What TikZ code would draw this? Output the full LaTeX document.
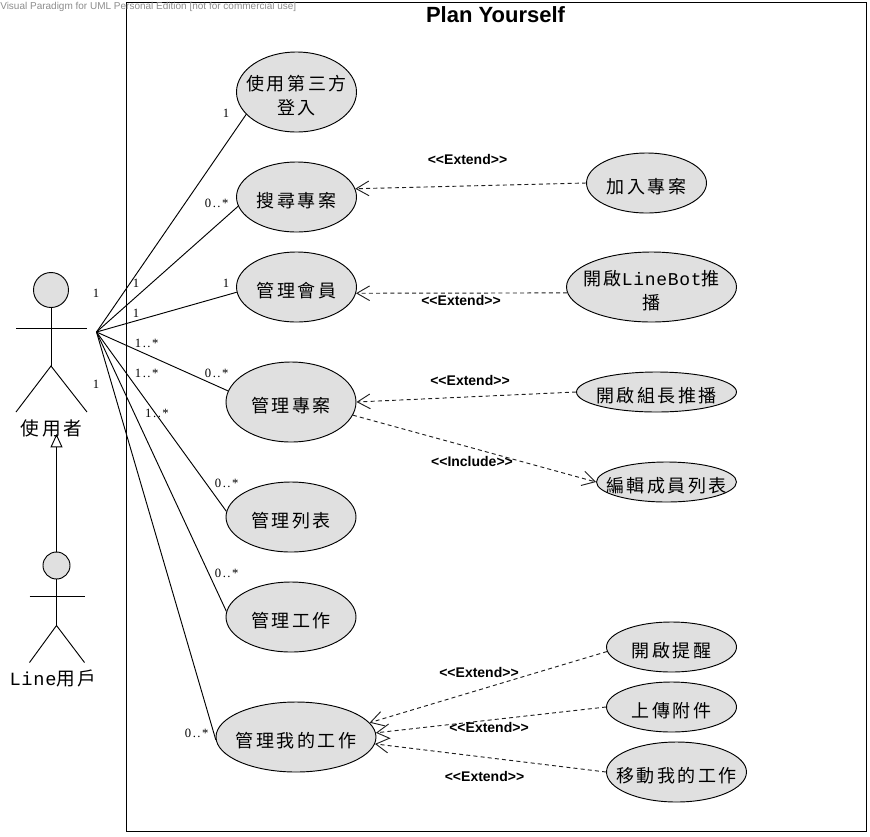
\documentclass[tikz,border=0pt]{standalone}
\usepackage{fontspec}
\setmainfont{Liberation Sans}
\newfontfamily\cjk[LetterSpace=14]{Noto Sans CJK TC}
\newfontfamily\latmono[LetterSpace=4]{Liberation Mono}
\newfontfamily\mult[LetterSpace=12]{Liberation Serif}
\usetikzlibrary{shapes.geometric,arrows.meta}
\definecolor{ucfill}{HTML}{E0E0E0}
\definecolor{dashc}{HTML}{202020}
\definecolor{wm}{HTML}{8C8C8C}
\newcommand{\lat}[1]{{\latmono #1}}
\tikzset{
  x=0.75pt,y=-0.75pt,
  line/.style={draw=black,line width=0.7pt},
  uc/.style args={#1/#2/#3}{ellipse,draw=black,line width=0.7pt,fill=ucfill,inner sep=0pt,
     minimum width=#1*0.75pt,minimum height=#2*0.75pt,
     label={[uct]center:#3}},
  uct/.style={font=\cjk\fontsize{13.5pt}{18pt}\selectfont,align=center,inner sep=0pt,text=black,yshift=-2.6pt},
  acttext/.style={font=\cjk\fontsize{14pt}{18pt}\selectfont,inner sep=0pt},
  head/.style={circle,draw=black,line width=0.7pt,fill=ucfill,inner sep=0pt,minimum size=#1*0.75pt},
  mul/.style={font=\mult\fontsize{9.5pt}{11pt}\selectfont,inner sep=0pt},
  ster/.style={font=\bfseries\fontsize{10.5pt}{13pt}\selectfont,inner sep=0pt},
  dep/.style={draw=dashc,line width=0.7pt,dash pattern=on 3pt off 2.4pt,
     -{Straight Barb[length=9.5pt,width=11pt,line width=0.7pt]}},
  gen/.style={draw=black,line width=0.7pt,-{Triangle[open,fill=white,length=10pt,width=9pt,line width=0.7pt]}},
}
\begin{document}
\begin{tikzpicture}
\useasboundingbox (0,0) rectangle (870,836);
% system boundary
\draw[line width=0.75pt] (126.5,2) rectangle (866,831.5);
\node[font=\bfseries\fontsize{16.5pt}{19pt}\selectfont,inner sep=0pt] (title) at (495.5,15) {Plan Yourself};
\node[font=\fontsize{7.5pt}{9pt}\selectfont,text=wm,inner sep=0pt,anchor=west] (wmark) at (0,7) {Visual Paradigm for UML Personal Edition [not for commercial use]};
% actors
\coordinate (hub) at (96.5,332);
\node[head=35] (h1) at (51,290) {};
\coordinate (a1hip) at (51,366);
\coordinate (a1la) at (16,328);
\coordinate (a1ra) at (87,328);
\coordinate (a1ll) at (16,412);
\coordinate (a1rl) at (87,412);
\draw[line] (h1.south) -- (a1hip);
\draw[line] (a1la) -- (a1ra);
\draw[line] (a1ll) -- (a1hip) -- (a1rl);
\node[acttext] (a1t) at (51.5,428) {使用者};
\node[head=27] (h2) at (56.5,565.5) {};
\coordinate (a2hip) at (56.5,625.5);
\coordinate (a2la) at (29.5,596.5);
\coordinate (a2ra) at (84.5,596.5);
\coordinate (a2ll) at (29.5,662.5);
\coordinate (a2rl) at (84.5,662.5);
\draw[line] (h2.south) -- (a2hip);
\draw[line] (a2la) -- (a2ra);
\draw[line] (a2ll) -- (a2hip) -- (a2rl);
\node[acttext] (a2t) at (53,678) {\lat{Line}用戶};
\coordinate (gtip) at (56.5,434);
\draw[gen] (h2.north) -- (gtip);
% use cases
\node[uc={120/80/使用第三方\\登入}] (u1) at (296.5,92) {};
\node[uc={120/70/搜尋專案}] (u2) at (296.5,197) {};
\node[uc={120/70/管理會員}] (u3) at (296.5,287) {};
\node[uc={130/80/管理專案}] (u4) at (291,402) {};
\node[uc={130/70/管理列表}] (u5) at (291,517) {};
\node[uc={130/70/管理工作}] (u6) at (291,617) {};
\node[uc={160/70/管理我的工作}] (u7) at (296,737) {};
\node[uc={120/60/加入專案}] (e1) at (646.5,183) {};
\node[uc={170/70/開啟\lat{LineBot}推\\播}] (e2) at (651.5,287) {};
\node[uc={160/40/開啟組長推播}] (e3) at (656.5,392) {};
\node[uc={140/40/編輯成員列表}] (e4) at (666.5,482) {};
\node[uc={130/50/開啟提醒}] (e5) at (671.5,647) {};
\node[uc={130/50/上傳附件}] (e6) at (671.5,707) {};
\node[uc={140/60/移動我的工作}] (e7) at (676.5,772) {};
% associations
\draw[line] (hub) -- (u1.204);
\draw[line] (hub) -- (u2.189.5);
\draw[line] (hub) -- (u3.185);
\draw[line] (hub) -- (u4.170);
\draw[line] (hub) -- (u5.175.6);
\draw[line] (hub) -- (u6.175.6);
\draw[line] (hub) -- (u7.182);
% dependencies
\draw[dep] (e1.west) -- (u2.8.5);
\draw[dep] (e2.184) -- (u3.354);
\draw[dep] (e3.west) -- (u4.east);
\draw[dep] (u4.348.7) -- (e4.west);
\draw[dep] (e5.184.4) -- (u7.11.9);
\draw[dep] (e6.west) -- (u7.3.8);
\draw[dep] (e7.west) -- (u7.355.7);
% stereotypes
\node[ster] (s1) at (467.5,159) {<{}<Extend>{}>};
\node[ster] (s2) at (461,300) {<{}<Extend>{}>};
\node[ster] (s3) at (470,380) {<{}<Extend>{}>};
\node[ster] (s4) at (472,461) {<{}<Include>{}>};
\node[ster] (s5) at (479,672) {<{}<Extend>{}>};
\node[ster] (s6) at (489,727) {<{}<Extend>{}>};
\node[ster] (s7) at (484.5,776) {<{}<Extend>{}>};
% multiplicities
\node[mul] (m1) at (226,113) {1};
\node[mul] (m2) at (216.7,203.3) {0..*};
\node[mul] (m3) at (226,283) {1};
\node[mul] (m4) at (96,293) {1};
\node[mul] (m5) at (136,283) {1};
\node[mul] (m6) at (136,313.5) {1};
\node[mul] (m7) at (146.7,343.3) {1..*};
\node[mul] (m8) at (146.7,373.3) {1..*};
\node[mul] (m9) at (96,384) {1};
\node[mul] (m10) at (157,413.3) {1..*};
\node[mul] (m11) at (216.7,373.3) {0..*};
\node[mul] (m12) at (226.7,483.3) {0..*};
\node[mul] (m13) at (226.7,573.3) {0..*};
\node[mul] (m14) at (196.7,733.3) {0..*};
\end{tikzpicture}
\end{document}
